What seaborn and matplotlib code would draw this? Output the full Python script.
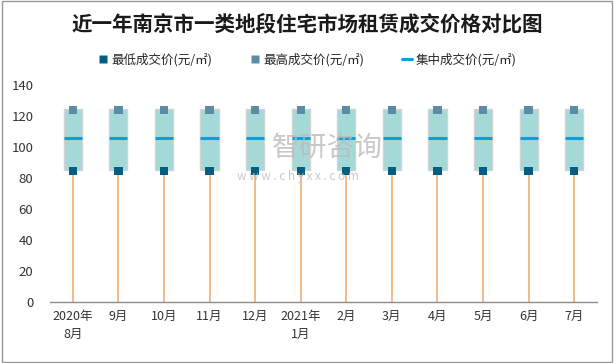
import numpy as np
import pandas as pd
import matplotlib
matplotlib.use('Agg')
import matplotlib.pyplot as plt
import seaborn as sns
from matplotlib.lines import Line2D
from matplotlib.patches import Rectangle

# data
months = ['2020年\n8月', '9月', '10月', '11月', '12月', '2021年\n1月',
          '2月', '3月', '4月', '5月', '6月', '7月']
low_price = [84.5] * 12
high_price = [124] * 12
mid_price = [106] * 12
box_bottom = [85.3] * 12
box_top = [124.5] * 12

sns.set_style('white')
plt.rcParams['font.family'] = ['Noto Sans CJK SC', 'DejaVu Sans']

df = pd.DataFrame({'month': months, 'low': low_price, 'high': high_price,
                   'mid': mid_price, 'b0': box_bottom, 'b1': box_top})
df['x'] = np.arange(len(df))

fig = plt.figure(figsize=(6.14, 3.63), dpi=100)
ax = fig.add_axes([50 / 614, 61 / 363, 547 / 614, 217 / 363])

# orange drop lines from 0 up to the low price
ax.vlines(df['x'], 0, df['low'], color='#F0A868', lw=1.1, zorder=1)

# boxes between bottom and top
ax.bar(df['x'], df['b1'] - df['b0'], bottom=df['b0'], width=0.4,
       color='#A4D9D8', edgecolor='#D3D3D3', linewidth=1.0, zorder=2)

# middle price as a short line
ax.hlines(df['mid'], df['x'] - 0.2, df['x'] + 0.2, color='#0AA1DA', lw=2.2, zorder=3)

sns.scatterplot(data=df, x='x', y='low', marker='s', s=36, color='#035E82',
                edgecolor='none', ax=ax, zorder=4, legend=False)
sns.scatterplot(data=df, x='x', y='high', marker='s', s=36, color='#5B8CA4',
                edgecolor='none', ax=ax, zorder=4, legend=False)

ax.set_xlim(-0.5, len(df) - 0.5)
ax.set_ylim(0, 140)
ax.set_yticks(range(0, 141, 20))
ax.set_xticks(df['x'])
ax.set_xticklabels(df['month'], fontsize=9, color='#333333', linespacing=1.5)
ax.tick_params(axis='y', labelsize=9.5, colors='#333333', length=0, pad=12)
ax.tick_params(axis='x', length=0, pad=6)
ax.set_xlabel('')
ax.set_ylabel('')
for side in ['left', 'right', 'top']:
    ax.spines[side].set_visible(False)
ax.spines['bottom'].set_color('#8C8C8C')
ax.spines['bottom'].set_linewidth(1.0)

fig.text(0.5, 0.935, '近一年南京市一类地段住宅市场租赁成交价格对比图',
         ha='center', va='center', fontsize=14.8, fontweight='bold', color='#1A1A1A')

handles = [
    Line2D([], [], marker='s', color='none', markerfacecolor='#035E82',
           markeredgecolor='none', markersize=6),
    Line2D([], [], marker='s', color='none', markerfacecolor='#5B8CA4',
           markeredgecolor='none', markersize=6),
    Line2D([], [], color='#0AA1DA', lw=2.2),
]
fig.legend(handles, ['最低成交价(元/㎡)', '最高成交价(元/㎡)', '集中成交价(元/㎡)'],
           loc='center', bbox_to_anchor=(0.5, 0.835), ncol=3, frameon=False,
           fontsize=9, handlelength=0.8, handletextpad=0.3, columnspacing=3.0)

# watermark
fig.text(0.443, 0.592, '智研咨询', fontsize=20, color='#BBBBBB', alpha=0.8,
         ha='left', va='center')
fig.text(0.386, 0.515, 'w w w . c h y x x . c o m', fontsize=8.5, color='#BBBBBB',
         alpha=0.8, ha='left', va='center')

fig.patches.append(Rectangle((0.003, 0.004), 0.994, 0.992, transform=fig.transFigure,
                             fill=False, edgecolor='#999999', lw=1.0))

fig.savefig('out.png', dpi=100)
